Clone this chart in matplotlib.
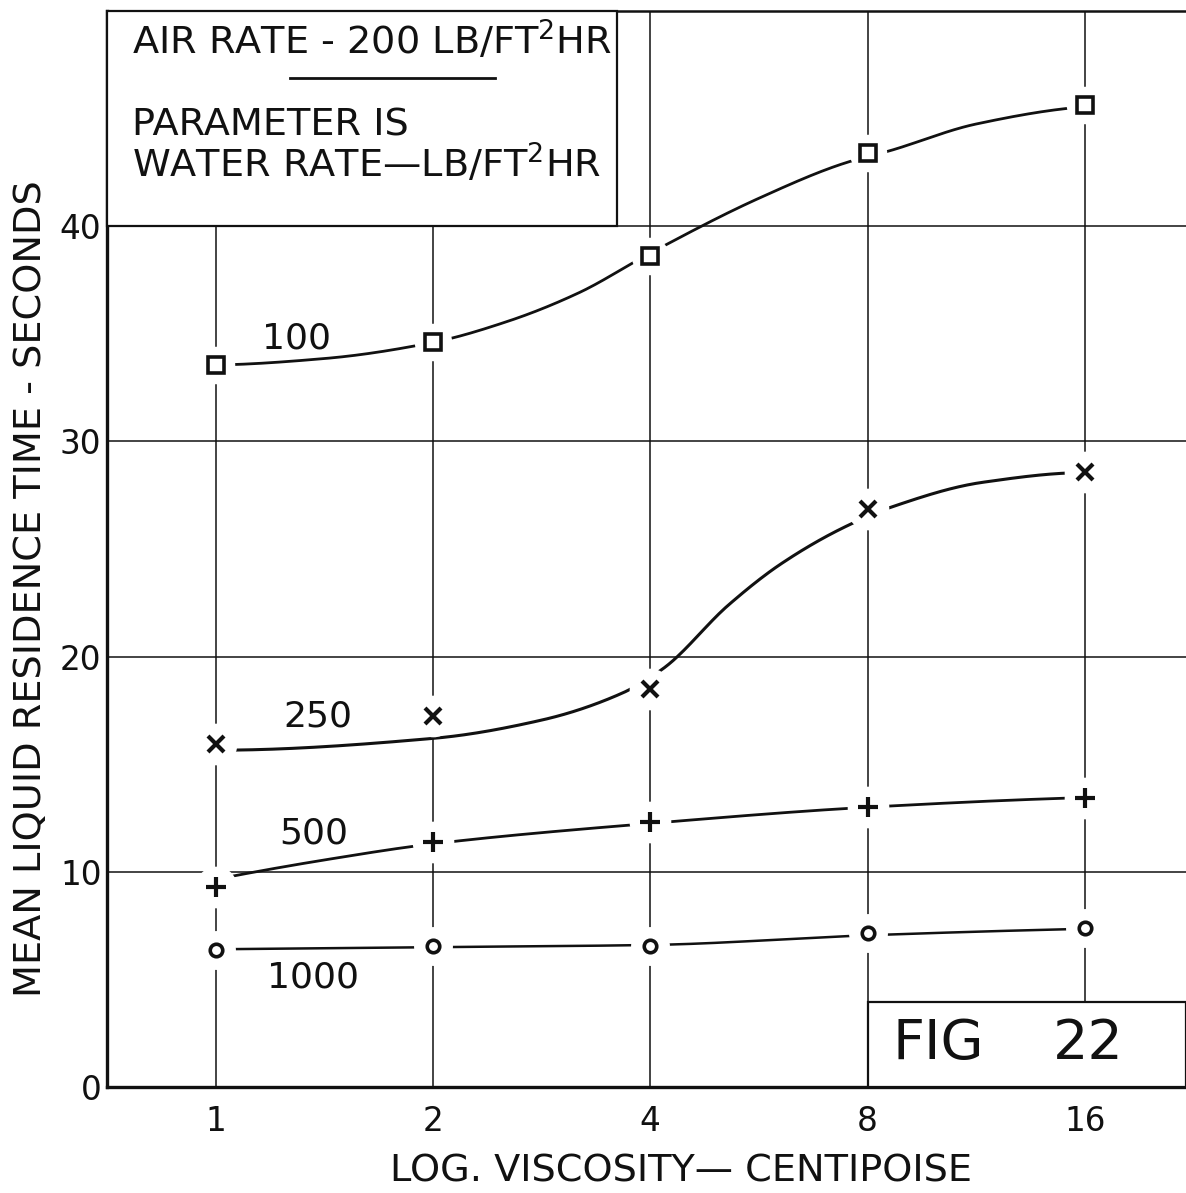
import numpy as np
import matplotlib
matplotlib.use("Agg")
import matplotlib.pyplot as plt
from matplotlib.patches import Rectangle
from matplotlib.lines import Line2D
from matplotlib.ticker import NullLocator, FixedLocator, FixedFormatter

# ---------------- data ----------------
viscosity = [1, 2, 4, 8, 16]
x_tick_labels = ["1", "2", "4", "8", "16"]
y_ticks = [0, 10, 20, 30, 40]
y_tick_labels = ["0", "10", "20", "30", "40"]

res_100 = [33.55, 34.6, 38.6, 43.4, 45.65]
res_250 = [15.95, 17.25, 18.5, 26.85, 28.6]
res_500 = [9.3, 11.4, 12.3, 13.0, 13.45]
res_1000 = [6.35, 6.55, 6.55, 7.15, 7.4]

# hand-drawn fitted curves: knots (log2 viscosity, value)
curve_100_logx = [0.0, 0.5, 1.0, 1.35, 1.67, 2.0, 2.5, 2.9, 3.1, 3.5, 4.0]
curve_100_y = [33.55, 33.85, 34.6, 35.6, 36.9, 38.75, 41.3, 42.95, 43.5, 44.75, 45.55]
curve_250_logx = [0.0, 1.0, 1.5, 1.87, 2.06, 2.36, 2.6, 2.89, 3.11, 3.53, 4.0]
curve_250_y = [15.65, 16.2, 17.05, 18.3, 19.45, 22.4, 24.3, 26.0, 26.95, 28.1, 28.55]
curve_500_logx = [0.0, 0.5, 1.0, 2.0, 3.0, 4.0]
curve_500_y = [9.65, 10.55, 11.3, 12.25, 13.0, 13.45]
curve_1000_logx = [0.0, 1.0, 2.0, 3.0, 4.0]
curve_1000_y = [6.4, 6.5, 6.6, 7.05, 7.35]

W, H = 1186, 1193
INK = "#111111"


def pchip(xk, yk, xq):
    xk = np.asarray(xk, float)
    yk = np.asarray(yk, float)
    h = np.diff(xk)
    d = np.diff(yk) / h
    n = len(xk)
    m = np.zeros(n)
    for i in range(1, n - 1):
        if d[i - 1] * d[i] > 0:
            w1 = 2 * h[i] + h[i - 1]
            w2 = h[i] + 2 * h[i - 1]
            m[i] = (w1 + w2) / (w1 / d[i - 1] + w2 / d[i])

    def end(h0, h1, d0, d1):
        s = ((2 * h0 + h1) * d0 - h0 * d1) / (h0 + h1)
        if np.sign(s) != np.sign(d0):
            return 0.0
        if np.sign(d0) != np.sign(d1) and abs(s) > abs(3 * d0):
            return 3 * d0
        return s

    m[0] = end(h[0], h[1], d[0], d[1])
    m[-1] = end(h[-1], h[-2], d[-1], d[-2])
    idx = np.clip(np.searchsorted(xk, xq) - 1, 0, n - 2)
    t = (xq - xk[idx]) / h[idx]
    h00 = 2 * t**3 - 3 * t**2 + 1
    h10 = t**3 - 2 * t**2 + t
    h01 = -2 * t**3 + 3 * t**2
    h11 = t**3 - t**2
    return (h00 * yk[idx] + h10 * h[idx] * m[idx]
            + h01 * yk[idx + 1] + h11 * h[idx] * m[idx + 1])


def fx(px):
    return px / W


def fy(py):
    return 1 - py / H


fig = plt.figure(figsize=(W / 100, H / 100), dpi=100)
fig.patch.set_facecolor("white")
ax = fig.add_axes([fx(107), fy(1087), (W - 107) / W, (1087 - 11) / H])
ax.set_xscale("log", base=2)
ax.set_xlim(2 ** -0.5, 2 ** 4.465)
ax.set_ylim(0, 50)

# grid
for v in viscosity:
    ax.axvline(v, color=INK, lw=1.1, zorder=0.5)
for yv in y_ticks[1:]:
    ax.axhline(yv, color=INK, lw=1.1, zorder=0.5)

# curves: (knots x, knots y, points, marker, size, halo size, line width)
series = [
    (curve_100_logx, curve_100_y, res_100, "s", 11, 27, 2.0),
    (curve_250_logx, curve_250_y, res_250, "x", 12, 30, 2.2),
    (curve_500_logx, curve_500_y, res_500, "+", 14, 30, 2.0),
    (curve_1000_logx, curve_1000_y, res_1000, "o", 9, 28, 1.8),
]
for cx, cy, pts, mk, ms, halo, lw in series:
    xs = np.linspace(cx[0], cx[-1], 400)
    ax.plot(2 ** xs, pchip(cx, cy, xs), color=INK, lw=lw, zorder=2,
            solid_capstyle="round")
    ax.plot(viscosity, pts, ls="none", marker="o", ms=halo, mfc="white",
            mec="none", zorder=3)
    if mk in ("s", "o"):
        ax.plot(viscosity, pts, ls="none", marker=mk, ms=ms, mfc="white",
                mec=INK, mew=2.6, zorder=4)
    else:
        ax.plot(viscosity, pts, ls="none", marker=mk, ms=ms, color=INK,
                mew=3.0, zorder=4)

# axes styling
ax.spines["right"].set_visible(False)
ax.spines["left"].set_linewidth(2.4)
ax.spines["bottom"].set_linewidth(2.4)
ax.spines["top"].set_linewidth(1.8)
for s in ax.spines.values():
    s.set_color(INK)
ax.xaxis.set_major_locator(FixedLocator(viscosity))
ax.xaxis.set_major_formatter(FixedFormatter(x_tick_labels))
ax.xaxis.set_minor_locator(NullLocator())
ax.set_yticks(y_ticks)
ax.set_yticklabels(y_tick_labels)
ax.tick_params(axis="both", length=0, labelsize=23.5, colors=INK)
ax.tick_params(axis="x", pad=13)
ax.tick_params(axis="y", pad=4)

fig.text(fx(31), fy(589), "MEAN LIQUID RESIDENCE TIME - SECONDS",
         rotation=90, ha="center", va="center", fontsize=27.5, color=INK)
fig.text(fx(681), fy(1172), "LOG. VISCOSITY\u2014 CENTIPOISE",
         ha="center", va="center", fontsize=27.5, color=INK)

# curve labels
ax.text(2 ** 0.37, 34.8, "100", ha="center", va="center", fontsize=26, color=INK, zorder=6)
ax.text(2 ** 0.47, 17.2, "250", ha="center", va="center", fontsize=26, color=INK, zorder=6)
ax.text(2 ** 0.45, 11.8, "500", ha="center", va="center", fontsize=26, color=INK, zorder=6)
ax.text(2 ** 0.45, 5.1, "1000", ha="center", va="center", fontsize=26, color=INK, zorder=6)

# info box
ax.add_patch(Rectangle((0, 0.8), (617 - 107) / 1079, 0.2, transform=ax.transAxes,
                       facecolor="white", edgecolor=INK, lw=1.6, zorder=5,
                       clip_on=False))
fig.text(fx(132), fy(55), r"AIR RATE - 200 LB/FT$^{2}$HR", ha="left",
         va="baseline", fontsize=27.5, color=INK, zorder=7)
fig.text(fx(132), fy(135), "PARAMETER IS", ha="left", va="baseline",
         fontsize=27.5, color=INK, zorder=7)
fig.text(fx(132), fy(178), "WATER RATE\u2014LB/FT$^{2}$HR", ha="left",
         va="baseline", fontsize=27.5, color=INK, zorder=7)
fig.add_artist(Line2D([fx(290), fx(495)], [fy(78), fy(78)], color=INK, lw=2.0,
                      zorder=7))

# FIG box
ax.add_patch(Rectangle((8, 0), 2 ** 4.465 - 8, 3.95, facecolor="white",
                       edgecolor=INK, lw=1.6, zorder=5, clip_on=False))
fig.text(fx(892), fy(1044), "FIG", ha="left", va="center", fontsize=40,
         color=INK, zorder=7)
fig.text(fx(1053), fy(1044), "22", ha="left", va="center", fontsize=40,
         color=INK, zorder=7)

fig.savefig("out.png", dpi=100, facecolor="white")
